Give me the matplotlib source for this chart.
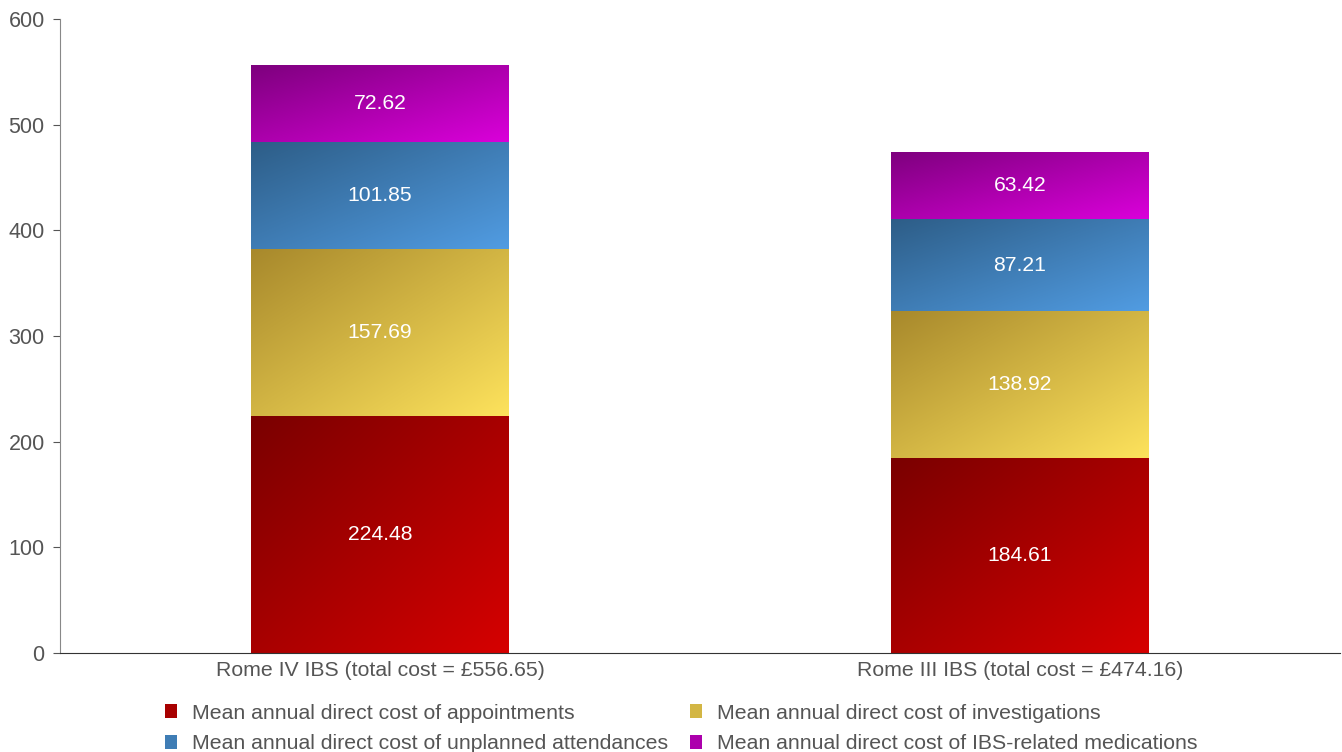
import numpy as np
import matplotlib.pyplot as plt
from matplotlib.colors import LinearSegmentedColormap
from matplotlib.patches import Patch

plt.rcParams['font.family'] = ['Liberation Sans', 'DejaVu Sans']

categories = ['Rome IV IBS (total cost = £556.65)', 'Rome III IBS (total cost = £474.16)']
series_names = ['Mean annual direct cost of appointments',
                'Mean annual direct cost of investigations',
                'Mean annual direct cost of unplanned attendances',
                'Mean annual direct cost of IBS-related medications']
appointments = [224.48, 184.61]
investigations = [157.69, 138.92]
unplanned = [101.85, 87.21]
medications = [72.62, 63.42]

series = [appointments, investigations, unplanned, medications]
# dark (top-left) -> light (bottom-right)
grads = [('#7a0000', '#d60000'),
         ('#a8892c', '#fde25c'),
         ('#2d5d87', '#519ce2'),
         ('#7e007e', '#da00da')]

fig = plt.figure(figsize=(13.42, 7.52), dpi=100)
ax = fig.add_axes([60 / 1342, 99 / 752, 1280 / 1342, 634 / 752])

x = np.arange(len(categories))
width = 0.403
bottom = np.zeros(len(categories))
gy, gx = np.mgrid[0:1:100j, 0:1:100j]
grad = (gx + gy) / 2  # top-left 0 -> bottom-right 1 (image origin upper)

for vals, (c0, c1) in zip(series, grads):
    cmap = LinearSegmentedColormap.from_list('g', [c0, c1])
    bars = ax.bar(x, vals, width, bottom=bottom, color='none', edgecolor='none')
    for b, v, b0 in zip(bars, vals, bottom):
        x0 = b.get_x()
        im = ax.imshow(grad, cmap=cmap, extent=[x0, x0 + width, b0, b0 + v],
                       aspect='auto', origin='upper', zorder=2, interpolation='bilinear')
        im.set_clip_path(b)
        ax.text(b.get_x() + width / 2, b0 + v / 2, f'{v:.2f}', ha='center', va='center',
                color='white', fontsize=15.2, zorder=3)
    bottom = bottom + np.array(vals)

ax.set_xlim(-0.5, 1.5)
ax.set_ylim(0, 600)
ax.set_yticks(range(0, 601, 100))
ax.set_xticks(x)
ax.set_xticklabels(categories)
ax.tick_params(axis='y', colors='#555555', labelsize=15.5, length=5, color='#555555', pad=6)
ax.tick_params(axis='x', colors='#555555', labelsize=15.3, length=0, pad=6)
ax.spines['top'].set_visible(False)
ax.spines['right'].set_visible(False)
ax.spines['left'].set_color('#888888')
ax.spines['bottom'].set_color('#333333')

mid = [LinearSegmentedColormap.from_list('g', g)(0.5) for g in grads]
handles = [Patch(facecolor=mid[i], edgecolor='none', label=series_names[i]) for i in [0, 2, 1, 3]]
fig.legend(handles=handles, ncol=2, loc='upper left', bbox_to_anchor=(154 / 1342, 1 - 693 / 752),
           frameon=False, fontsize=15.3, labelcolor='#555555', handlelength=0.6, handleheight=0.6,
           handletextpad=0.7, columnspacing=1.0, labelspacing=0.55, borderpad=0)

fig.savefig('out.png', dpi=100)
